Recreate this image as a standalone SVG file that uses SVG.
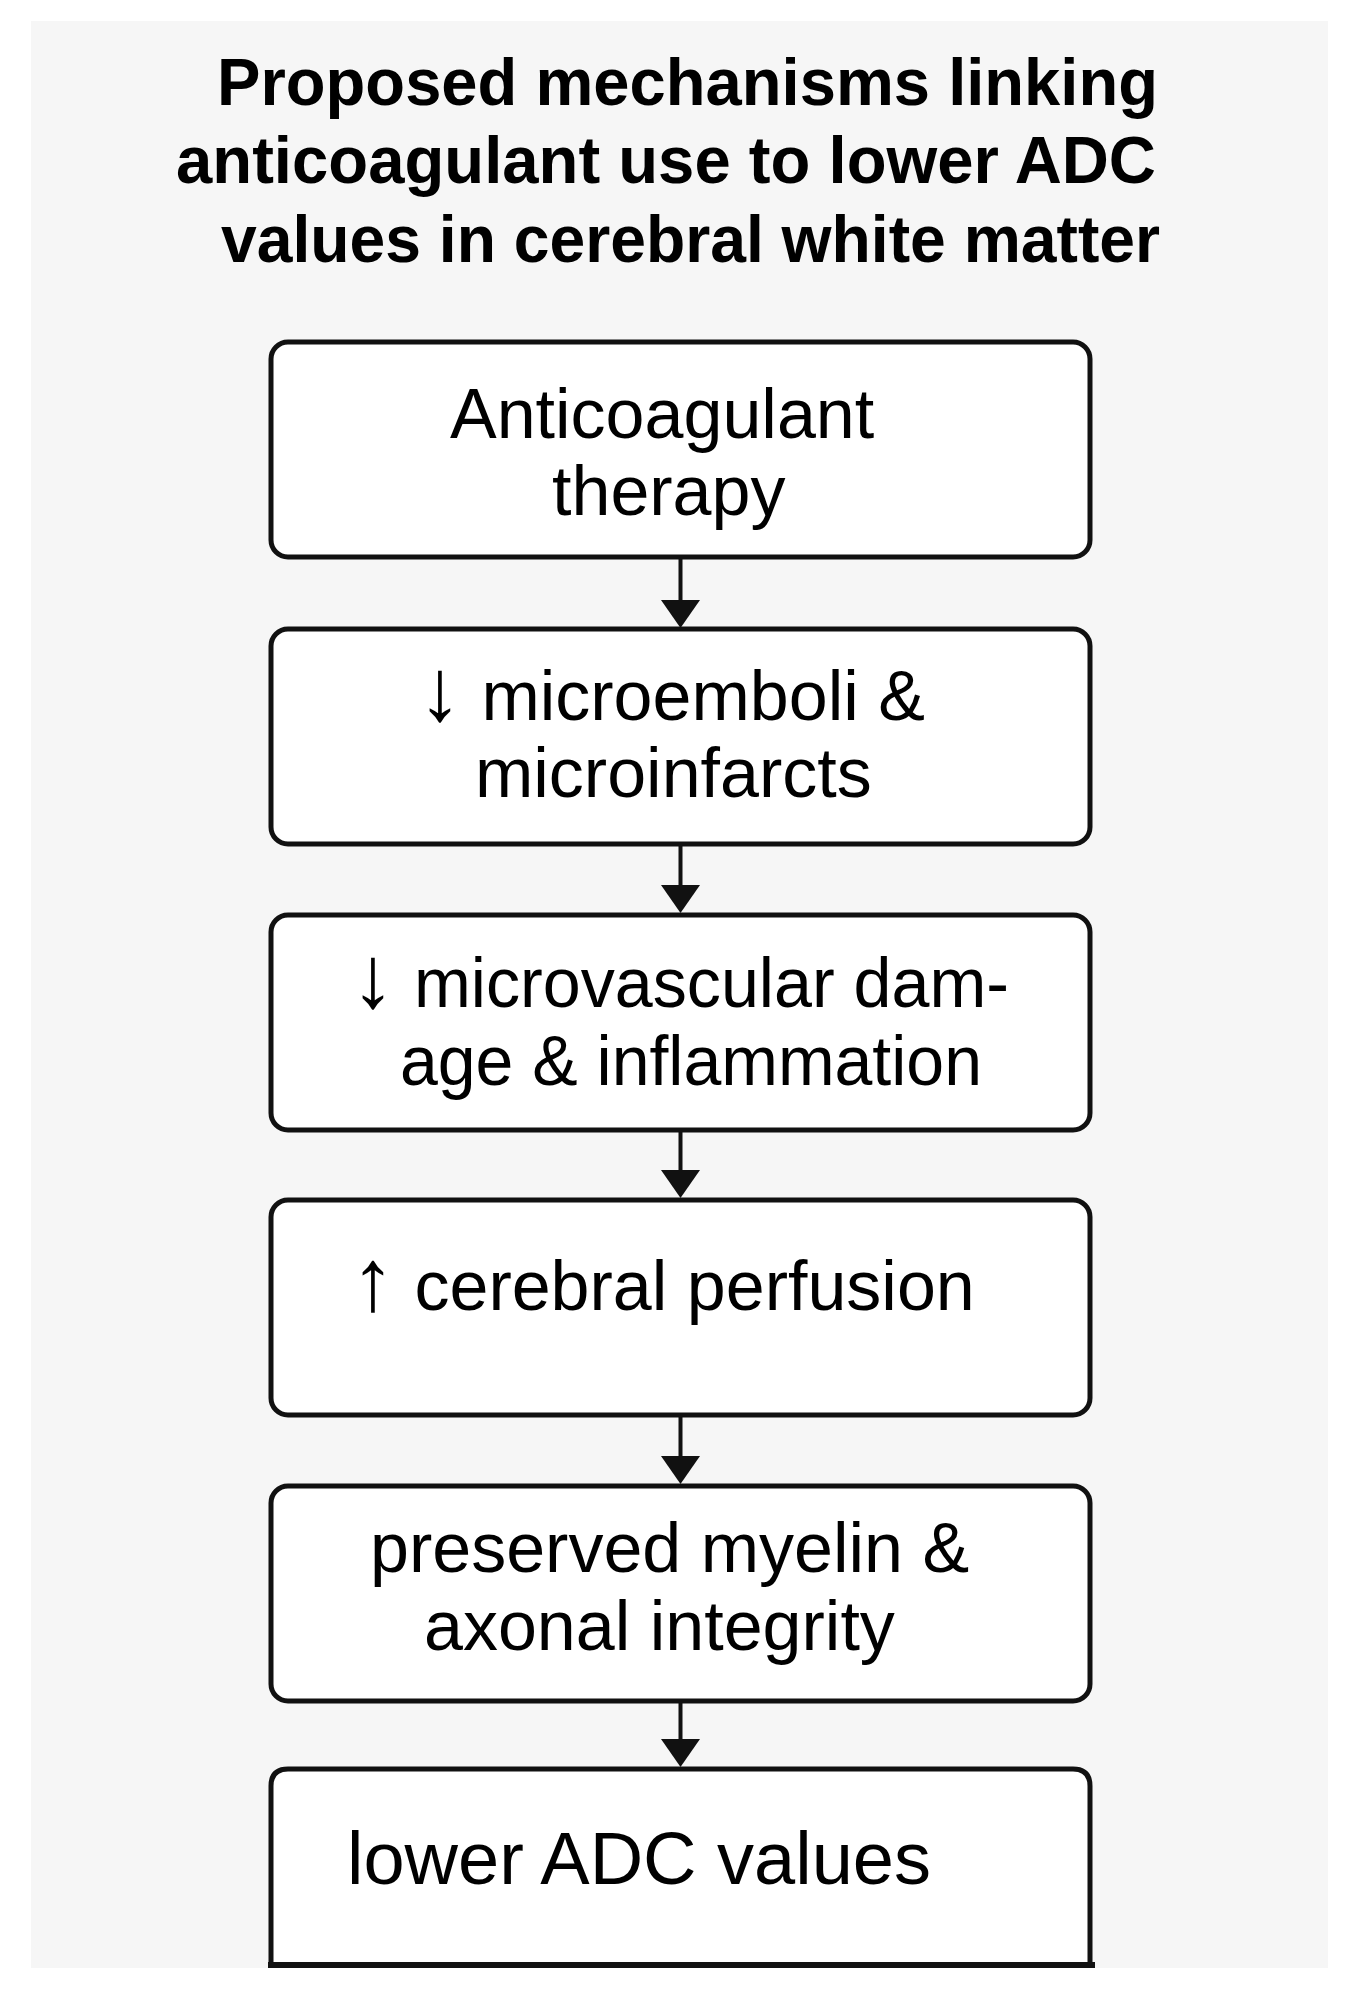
<svg xmlns="http://www.w3.org/2000/svg" width="1350" height="1993" viewBox="0 0 1350 1993">
  <defs>
    <style>
      .title { font-family: "Liberation Sans", Arial, sans-serif; font-weight: bold; font-size: 66px; fill: #000; }
      .lbl { font-family: "Liberation Sans", Arial, "DejaVu Sans", sans-serif; font-size: 70px; fill: #000; }
      .arr { font-size: 88px; }
      .box { fill: #ffffff; stroke: #111111; stroke-width: 5; }
      .conn { stroke: #111111; stroke-width: 4; fill: none; }
      .head { fill: #111111; stroke: none; }
    </style>
  </defs>
  <rect x="0" y="0" width="1350" height="1993" fill="#ffffff"/>
  <rect x="31" y="21" width="1297" height="1947" fill="#f6f6f6"/>

  <g id="title">
    <text class="title" x="217" y="105" textLength="941" lengthAdjust="spacingAndGlyphs">Proposed mechanisms linking</text>
    <text class="title" x="176" y="183" textLength="980" lengthAdjust="spacingAndGlyphs">anticoagulant use to lower ADC</text>
    <text class="title" x="221" y="262" textLength="939" lengthAdjust="spacingAndGlyphs">values in cerebral white matter</text>
  </g>

  <g id="connectors">
    <line class="conn" x1="680.5" y1="559" x2="680.5" y2="602"/>
    <polygon class="head" points="661,600 700,600 680.5,628"/>
    <line class="conn" x1="680.5" y1="846" x2="680.5" y2="887"/>
    <polygon class="head" points="661,885 700,885 680.5,913"/>
    <line class="conn" x1="680.5" y1="1132" x2="680.5" y2="1172"/>
    <polygon class="head" points="661,1170 700,1170 680.5,1198"/>
    <line class="conn" x1="680.5" y1="1417" x2="680.5" y2="1458"/>
    <polygon class="head" points="661,1456 700,1456 680.5,1484"/>
    <line class="conn" x1="680.5" y1="1703" x2="680.5" y2="1741"/>
    <polygon class="head" points="661,1739 700,1739 680.5,1767"/>
  </g>

  <g id="node1">
    <rect class="box" x="271" y="342" width="819" height="215" rx="17" ry="17"/>
    <text class="lbl" x="450" y="438">Anticoagulant</text>
    <text class="lbl" x="552" y="515">therapy</text>
  </g>

  <g id="node2">
    <rect class="box" x="271" y="629" width="819" height="215" rx="17" ry="17"/>
    <text class="lbl" x="418" y="720"><tspan class="arr">↓</tspan><tspan> microemboli &amp;</tspan></text>
    <text class="lbl" x="475" y="797">microinfarcts</text>
  </g>

  <g id="node3">
    <rect class="box" x="271" y="915" width="819" height="215" rx="17" ry="17"/>
    <text class="lbl" x="351" y="1007"><tspan class="arr">↓</tspan><tspan textLength="614" lengthAdjust="spacingAndGlyphs"> microvascular dam-</tspan></text>
    <text class="lbl" x="400" y="1085" textLength="582" lengthAdjust="spacingAndGlyphs">age &amp; inflammation</text>
  </g>

  <g id="node4">
    <rect class="box" x="271" y="1200" width="819" height="215" rx="17" ry="17"/>
    <text class="lbl" x="351" y="1310"><tspan class="arr">↑</tspan><tspan> cerebral perfusion</tspan></text>
  </g>

  <g id="node5">
    <rect class="box" x="271" y="1486" width="819" height="215" rx="17" ry="17"/>
    <text class="lbl" x="370" y="1572">preserved myelin &amp;</text>
    <text class="lbl" x="424" y="1650">axonal integrity</text>
  </g>

  <g id="node6">
    <path class="box" d="M271,1965 L271,1786 Q271,1769 288,1769 L1073,1769 Q1090,1769 1090,1786 L1090,1965 Z"/>
    <line x1="268" y1="1965" x2="1095" y2="1965" stroke="#111111" stroke-width="6"/>
    <text class="lbl" x="347" y="1884" style="font-size:74px">lower ADC values</text>
  </g>
</svg>
